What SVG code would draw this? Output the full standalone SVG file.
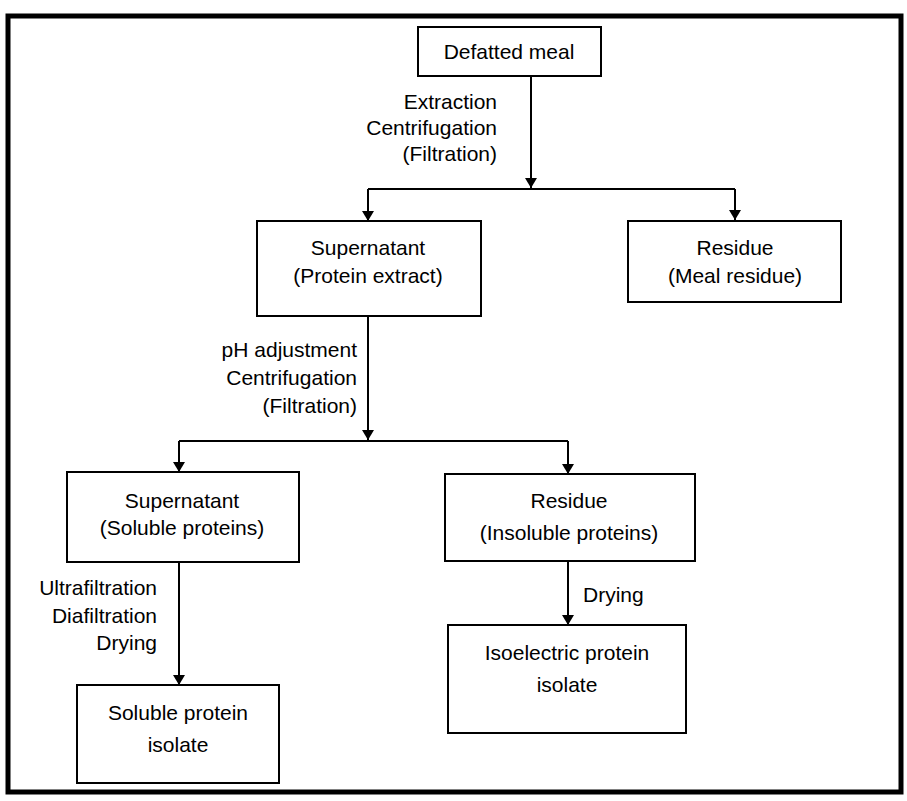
<svg xmlns="http://www.w3.org/2000/svg" width="907" height="801" viewBox="0 0 907 801">
<defs>
<marker id="ah" viewBox="0 0 10 12" refX="10" refY="6" markerWidth="10" markerHeight="12" markerUnits="userSpaceOnUse" orient="auto">
<path d="M0,0 L10,6 L0,12 Z" fill="#000"/>
</marker>
<style>
text{font-family:"Liberation Sans",Arial,sans-serif;font-size:21px;fill:#000}
.c{text-anchor:middle}
.r{text-anchor:end}
.box{fill:#fff;stroke:#000;stroke-width:2}
.ln{fill:none;stroke:#000;stroke-width:2}
.ar{fill:none;stroke:#000;stroke-width:2;marker-end:url(#ah)}
</style>
</defs>
<rect width="907" height="801" fill="#fff"/>
<rect x="8" y="16" width="893" height="776" fill="none" stroke="#000" stroke-width="5"/>

<g id="connectors">
<line class="ar" x1="531" y1="76" x2="531" y2="188"/>
<line class="ln" x1="368" y1="189" x2="735" y2="189"/>
<line class="ar" x1="368" y1="189" x2="368" y2="221"/>
<line class="ar" x1="735" y1="189" x2="735" y2="220"/>
<line class="ar" x1="368" y1="316" x2="368" y2="440"/>
<line class="ln" x1="179" y1="441" x2="568" y2="441"/>
<line class="ar" x1="179" y1="441" x2="179" y2="472"/>
<line class="ar" x1="568" y1="441" x2="568" y2="474"/>
<line class="ar" x1="179" y1="562" x2="179" y2="685"/>
<line class="ar" x1="568" y1="561" x2="568" y2="625"/>
<text class="r" x="497" y="109">Extraction</text>
<text class="r" x="497" y="135">Centrifugation</text>
<text class="r" x="497" y="161">(Filtration)</text>
<text class="r" x="357" y="357">pH adjustment</text>
<text class="r" x="357" y="385">Centrifugation</text>
<text class="r" x="357" y="413">(Filtration)</text>
<text class="r" x="157" y="595">Ultrafiltration</text>
<text class="r" x="157" y="623">Diafiltration</text>
<text class="r" x="157" y="650">Drying</text>
<text x="583" y="602">Drying</text>
</g>

<g id="defatted-meal">
<rect class="box" x="418" y="27" width="183" height="49"/>
<text class="c" x="509" y="59">Defatted meal</text>
</g>
<g id="supernatant-1">
<rect class="box" x="257" y="221" width="224" height="95"/>
<text class="c" x="368" y="255">Supernatant</text>
<text class="c" x="368" y="283">(Protein extract)</text>
</g>
<g id="residue-1">
<rect class="box" x="628" y="221" width="213" height="81"/>
<text class="c" x="735" y="255">Residue</text>
<text class="c" x="735" y="283">(Meal residue)</text>
</g>
<g id="supernatant-2">
<rect class="box" x="67" y="472" width="232" height="90"/>
<text class="c" x="182" y="508">Supernatant</text>
<text class="c" x="182" y="535">(Soluble proteins)</text>
</g>
<g id="residue-2">
<rect class="box" x="445" y="474" width="250" height="87"/>
<text class="c" x="569" y="508">Residue</text>
<text class="c" x="569" y="540">(Insoluble proteins)</text>
</g>
<g id="soluble-isolate">
<rect class="box" x="77" y="685" width="202" height="98"/>
<text class="c" x="178" y="720">Soluble protein</text>
<text class="c" x="178" y="752">isolate</text>
</g>
<g id="isoelectric-isolate">
<rect class="box" x="448" y="625" width="238" height="108"/>
<text class="c" x="567" y="660">Isoelectric protein</text>
<text class="c" x="567" y="692">isolate</text>
</g>
</svg>
